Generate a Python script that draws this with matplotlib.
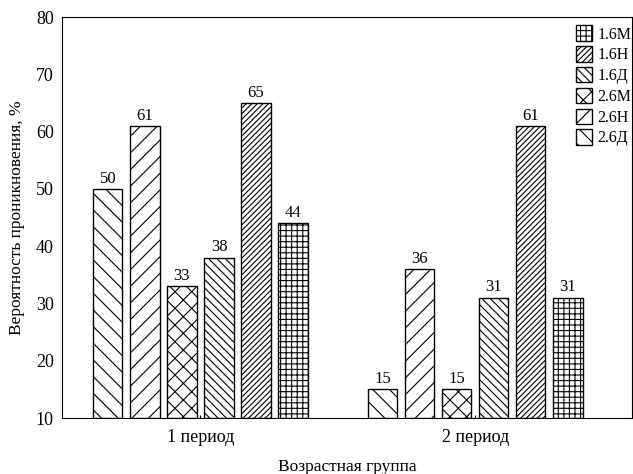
import matplotlib
matplotlib.use("Agg")
import matplotlib.pyplot as plt
import numpy as np

plt.rcParams['font.family'] = ['Liberation Serif', 'DejaVu Serif']
plt.rcParams['hatch.linewidth'] = 0.8

periods = ["1 период", "2 период"]
series = ["2.6Д", "2.6Н", "2.6М", "1.6Д", "1.6Н", "1.6М"]
hatches = ["\\\\", "//", "xx", "\\\\\\\\", "//////", "+++"]
values = {
    "2.6Д": [50, 15],
    "2.6Н": [61, 36],
    "2.6М": [33, 15],
    "1.6Д": [38, 31],
    "1.6Н": [65, 61],
    "1.6М": [44, 31],
}

fig = plt.figure(figsize=(6.33, 4.74), dpi=100)
ax = fig.add_axes([0.098, 0.118, 0.9, 0.846])

x = np.arange(len(periods))
pitch = 0.135
width = 0.107
handles = []
for i, name in enumerate(series):
    pos = x + (i - 2.5) * pitch
    bars = ax.bar(pos, np.array(values[name]) - 10, width, bottom=10,
                  color="white", edgecolor="black", hatch=hatches[i],
                  linewidth=1.0, label=name)
    handles.append(bars)
    for b, v in zip(bars, values[name]):
        ax.text(b.get_x() + b.get_width() / 2, v + 0.4, str(v),
                ha="center", va="bottom", fontsize=12)

ax.set_ylim(10, 80)
ax.set_xlim(-0.504, 1.57)
ax.set_yticks(range(10, 81, 10))
ax.set_xticks(x)
ax.set_xticklabels(periods)
ax.tick_params(axis="y", length=0, labelsize=13, pad=6)
ax.tick_params(axis="x", direction="in", length=2, labelsize=13, pad=8)
ax.set_ylabel("Вероятность проникновения, %", fontsize=12.5, labelpad=8)
ax.set_xlabel("Возрастная группа", fontsize=12.5, labelpad=9)

leg = ax.legend(handles[::-1], series[::-1], loc="upper right", frameon=False,
                fontsize=11.5, handlelength=1.0, handleheight=1.1,
                labelspacing=0.23, handletextpad=0.35,
                bbox_to_anchor=(1.025, 1.015))

fig.savefig("out.png", dpi=100)
